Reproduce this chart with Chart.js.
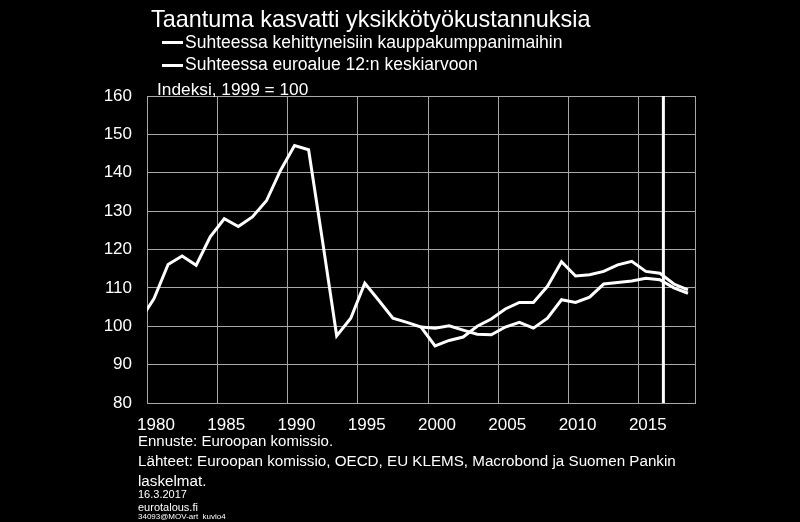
<!DOCTYPE html>
<html>
<head>
<meta charset="utf-8">
<script src="https://cdn.jsdelivr.net/npm/chart.js@4/dist/chart.umd.min.js"></script>
<style>
  html, body { margin: 0; padding: 0; background: #000; }
  #wrap { position: relative; width: 800px; height: 522px; background: #000; overflow: hidden;
          font-family: 'Liberation Sans', Arial, sans-serif; color: #fff; }
  #wrap canvas { position: absolute; left: 0; top: 0; }
  .txt { position: absolute; white-space: nowrap; line-height: 1; }
  .key { position: absolute; height: 3px; width: 21px; background: #fff; }
</style>
</head>
<body>
<div id="wrap">
  <canvas id="myChart" width="800" height="522"></canvas>
  <div class="txt" style="left:151px; top:8px; font-size:23.4px;">Taantuma kasvatti yksikkötyökustannuksia</div>
  <div class="key" style="left:162px; top:41px;"></div>
  <div class="txt" style="left:185px; top:33.5px; font-size:17.5px;">Suhteessa kehittyneisiin kauppakumppanimaihin</div>
  <div class="key" style="left:162px; top:64px;"></div>
  <div class="txt" style="left:185px; top:56.2px; font-size:17.5px;">Suhteessa euroalue 12:n keskiarvoon</div>
  <div class="txt" style="left:157px; top:80.8px; font-size:17.3px;">Indeksi, 1999 = 100</div>
  <div class="txt" style="left:138px; top:433px; font-size:15px;">Ennuste: Euroopan komissio.</div>
  <div class="txt" style="left:138px; top:453px; font-size:15.2px;">Lähteet: Euroopan komissio, OECD, EU KLEMS, Macrobond ja Suomen Pankin</div>
  <div class="txt" style="left:138px; top:473px; font-size:15.2px;">laskelmat.</div>
  <div class="txt" style="left:138px; top:489px; font-size:11px;">16.3.2017</div>
  <div class="txt" style="left:138px; top:502px; font-size:11px;">eurotalous.fi</div>
  <div class="txt" style="left:138px; top:513px; font-size:8px;">34093@MOV-art &nbsp;kuvio4</div>
</div>
<script>
// data (index, 1999 = 100)
const years = [1979, 1980, 1981, 1982, 1983, 1984, 1985, 1986, 1987, 1988,
  1989, 1990, 1991, 1992, 1993, 1994, 1995, 1996, 1997, 1998,
  1999, 2000, 2001, 2002, 2003, 2004, 2005, 2006, 2007, 2008,
  2009, 2010, 2011, 2012, 2013, 2014, 2015, 2016, 2017, 2018];

const partners = [101.5, 107.2, 116.1, 118.3, 115.9, 123.3, 128.0, 126.0, 128.5, 132.7,
  140.6, 147.1, 146.0, 122.0, 97.5, 102.1, 111.2, 106.7, 102.1, 101.0,
  99.8, 94.9, 96.3, 97.2, 100.0, 101.9, 104.5, 106.2, 106.2, 110.4,
  116.8, 113.1, 113.4, 114.3, 116.0, 116.9, 114.3, 113.8, 111.0, 109.5];

const euroArea = [null, null, null, null, null, null, null, null, null, null,
  null, null, null, null, null, null, null, null, null, null,
  99.8, 99.5, 100.1, 99.0, 97.9, 97.8, 99.8, 101.0, 99.5, 102.1,
  106.9, 106.2, 107.6, 111.0, 111.4, 111.8, 112.5, 112.1, 110.0, 108.6];

const xTicks = [1980, 1985, 1990, 1995, 2000, 2005, 2010, 2015, 2019];
const forecastStart = 2016.75;

// yearly values sit in the middle of their year
const toPoints = (vals) => years.map((y, i) => ({ x: y + 0.5, y: vals[i] }));

Chart.defaults.font.family = "'Liberation Sans', Arial, sans-serif";
Chart.defaults.font.size = 17;
Chart.defaults.color = '#ffffff';

const gridColor = '#a8a8a8';

const config = {
  type: 'line',
  data: {
    datasets: [
      { label: 'Suhteessa kehittyneisiin kauppakumppanimaihin', data: toPoints(partners),
        borderColor: '#fff', borderWidth: 3, pointRadius: 0, clip: 0 },
      { label: 'Suhteessa euroalue 12:n keskiarvoon', data: toPoints(euroArea),
        borderColor: '#fff', borderWidth: 3, pointRadius: 0 },
      { label: 'Ennuste', data: [{ x: forecastStart, y: 80 }, { x: forecastStart, y: 160 }],
        borderColor: '#fff', borderWidth: 3, pointRadius: 0, clip: 2 }
    ]
  },
  options: {
    responsive: false,
    animation: false,
    layout: { padding: { left: 0, right: 105, top: 96, bottom: 0 } },
    plugins: { legend: { display: false }, tooltip: { enabled: false } },
    scales: {
      x: {
        type: 'linear', min: 1980, max: 2019,
        afterBuildTicks: (s) => { s.ticks = xTicks.map(v => ({ value: v })); },
        afterFit: (s) => { s.height = 119; },
        // labels sit in the middle of the year, grid lines on the year boundary
        ticks: { padding: 12, labelOffset: 9, maxRotation: 0, autoSkip: false,
                 callback: (v) => (v % 5 === 0 ? String(v) : '') },
        grid: { color: gridColor, lineWidth: 1, drawTicks: false },
        border: { color: gridColor, width: 1 }
      },
      y: {
        min: 80, max: 160,
        afterFit: (s) => { s.width = 147; },
        ticks: { stepSize: 10, padding: 15 },
        grid: { color: gridColor, lineWidth: 1, drawTicks: false },
        border: { color: gridColor, width: 1 }
      }
    }
  }
};

const myChart = new Chart(document.getElementById('myChart'), config);
</script>
</body>
</html>
